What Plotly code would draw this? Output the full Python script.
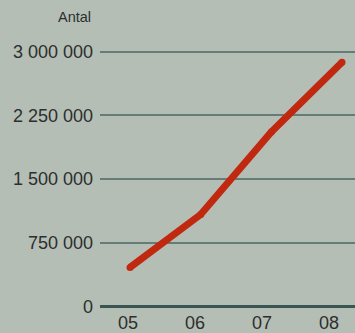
import plotly.graph_objects as go

# Data
years = ["05", "06", "07", "08"]
antal = [460000, 1083000, 2054000, 2873000]
y_tickvals = [0, 750000, 1500000, 2250000, 3000000]
y_ticktext = ["0", "750 000", "1 500 000", "2 250 000", "3 000 000"]
y_title = "Antal"

BG = "#b4beb5"
RED = "#c0290f"
GRID = "#647d78"
ZERO = "#3a5653"
TXT = "#2e2e2e"
FONT = "Liberation Sans, Arial, sans-serif"

W, H = 355, 333
ML, MR, MT, MB = 100, 0, 20, 26
PX_PER_UNIT = 85 / 1e6
ZERO_Y = 306.5
plot_bottom = H - MB
plot_h = H - MT - MB
r0 = -(plot_bottom - ZERO_Y) / PX_PER_UNIT
r1 = r0 + plot_h / PX_PER_UNIT

fig = go.Figure()
# carrier for the category tick labels (no visible marks)
fig.add_trace(go.Scatter(
    x=years, y=antal, xaxis="x", yaxis="y",
    mode="none", hoverinfo="skip", showlegend=False,
))
# the data line
fig.add_trace(go.Scatter(
    x=years, y=antal, xaxis="x2", yaxis="y",
    mode="lines+markers",
    line=dict(color=RED, width=7),
    marker=dict(color=RED, size=7),
    hoverinfo="skip", showlegend=False,
))

fig.update_layout(
    width=W, height=H,
    margin=dict(l=ML, r=MR, t=MT, b=MB, pad=0),
    paper_bgcolor=BG, plot_bgcolor=BG,
    font=dict(family=FONT, size=18, color=TXT),
    xaxis=dict(
        type="category", range=[-0.418, 3.388],
        showgrid=False, zeroline=False, showline=False, ticks="",
        tickfont=dict(size=18, color=TXT), ticklabelstandoff=3,
        fixedrange=True, automargin=False,
    ),
    xaxis2=dict(
        type="category", range=[-0.4245, 3.184],
        overlaying="x", visible=False, fixedrange=True,
    ),
    yaxis=dict(
        range=[r0, r1],
        tickmode="array", tickvals=y_tickvals, ticktext=y_ticktext,
        showgrid=True, gridcolor=GRID, gridwidth=1.5,
        zeroline=True, zerolinecolor=ZERO, zerolinewidth=3,
        showline=False, ticks="", ticklabelstandoff=6,
        tickfont=dict(size=18, color=TXT),
        fixedrange=True, automargin=False,
    ),
    annotations=[dict(
        text=y_title, xref="paper", yref="paper",
        x=(92.5 - ML) / (W - ML - MR), y=1 + (MT - 17) / plot_h,
        xanchor="right", yanchor="middle", showarrow=False,
        font=dict(family=FONT, size=14.5, color=TXT),
    )],
)

fig.write_html("out.html", config={"displayModeBar": False})
